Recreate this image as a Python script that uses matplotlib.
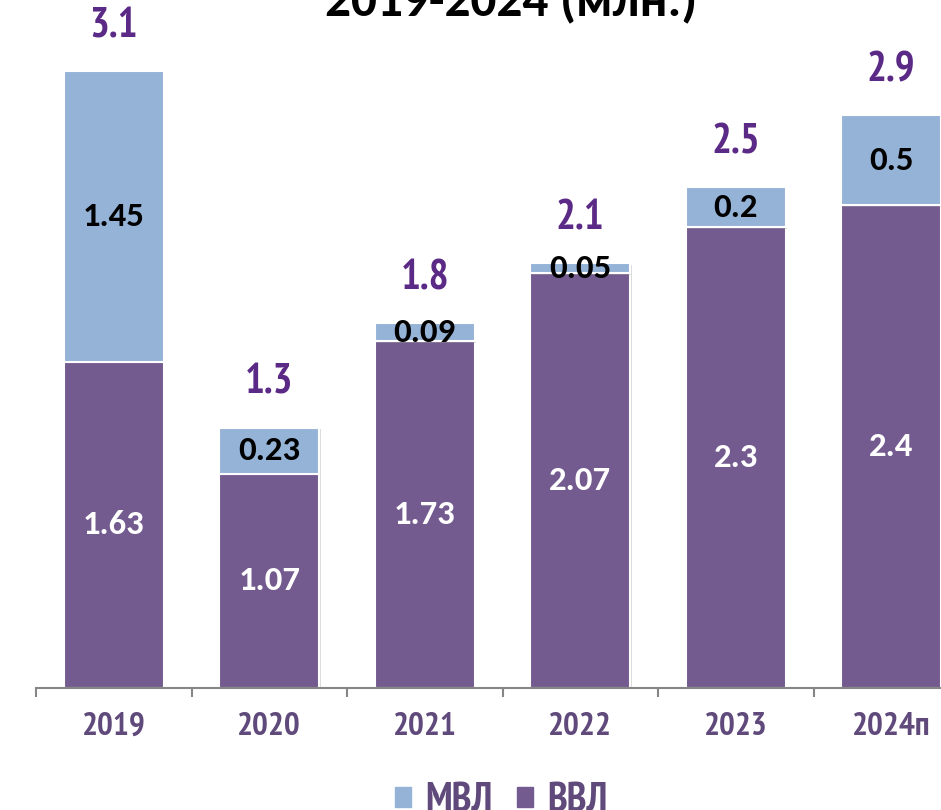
import matplotlib
matplotlib.use("Agg")
import matplotlib.pyplot as plt
import matplotlib.patheffects as pe
from matplotlib.patches import Patch
from matplotlib import font_manager
import numpy as np

# data (passengers, mln)
years = ["2019", "2020", "2021", "2022", "2023", "2024п"]
vvl = [1.63, 1.07, 1.73, 2.07, 2.30, 2.41]      # domestic
mvl = [1.45, 0.23, 0.09, 0.05, 0.20, 0.45]      # international
vvl_labels = ["1.63", "1.07", "1.73", "2.07", "2.3", "2.4"]
mvl_labels = ["1.45", "0.23", "0.09", "0.05", "0.2", "0.5"]
total_labels = ["3.1", "1.3", "1.8", "2.1", "2.5", "2.9"]

c_vvl = "#735A8F"
c_mvl = "#95B3D7"
c_total = "#5B2A86"
c_tick = "#604A7B"


def pick(prefs, default):
    have = {f.name for f in font_manager.fontManager.ttflist}
    for p in prefs:
        if p in have:
            return p
    return default


nfam = pick(["Liberation Sans Narrow", "Arial Narrow", "PT Sans Narrow", "Roboto Condensed"], "DejaVu Sans")
narrow = [nfam, "DejaVu Sans"]
nstretch = "condensed" if nfam == "DejaVu Sans" else "normal"
label_font = [pick(["Carlito", "Calibri", "Open Sans"], "DejaVu Sans"), "DejaVu Sans"]

fig = plt.figure(figsize=(9.41, 8.10), dpi=100)
W, H = 941, 810
# axes: x from -0.5 at px 36, 155.5 px per category; baseline at px 688
ax = fig.add_axes([36 / W, (H - 688) / H, 6 * 155.5 / W, 3.4 * 200.3 / H])

x = np.arange(len(years))
shadow = [pe.SimplePatchShadow(offset=(1, -1), shadow_rgbFace="#999999", alpha=0.35), pe.Normal()]
b1 = ax.bar(x, vvl, width=0.643, color=c_vvl, edgecolor="white", linewidth=1.5, zorder=2)
b2 = ax.bar(x, mvl, width=0.643, bottom=vvl, color=c_mvl, edgecolor="white", linewidth=1.5, zorder=2)
for p in list(b1) + list(b2):
    p.set_path_effects(shadow)

for i in range(len(years)):
    ax.text(x[i], vvl[i] / 2, vvl_labels[i], ha="center", va="center", color="white",
            fontsize=25, fontweight="bold", family=label_font, zorder=3)
    ax.text(x[i], vvl[i] + mvl[i] / 2, mvl_labels[i], ha="center", va="center", color="black",
            fontsize=25, fontweight="bold", family=label_font, zorder=3)
    ax.annotate(total_labels[i], (x[i], vvl[i] + mvl[i]), xytext=(0, 32), textcoords="offset points",
                ha="center", va="center", color=c_total, fontsize=30, fontweight="bold",
                family=narrow, fontstretch=nstretch, annotation_clip=False)

ax.set_xlim(-0.5, 5.5)
ax.set_ylim(0, 3.4)
ax.set_yticks([])
for s in ["left", "right", "top"]:
    ax.spines[s].set_visible(False)
ax.spines["bottom"].set_color("#868686")
ax.spines["bottom"].set_linewidth(1.5)

ax.set_xticks(x)
ax.set_xticklabels(years, fontsize=24, fontweight="bold", color=c_tick, family=narrow,
                   fontstretch=nstretch)
ax.tick_params(axis="x", which="major", length=0, pad=17)
ax.set_xticks(np.arange(-0.5, 6, 1), minor=True)
ax.tick_params(axis="x", which="minor", length=6.5, width=1.5, color="#868686")

fig.text(511 / W, 1 - 16 / H, "2019-2024 (млн.)", ha="center", va="baseline",
         fontsize=37, fontweight="bold", family=label_font, color="black")

handles = [Patch(color=c_mvl, label="МВЛ"), Patch(color=c_vvl, label="ВВЛ")]
leg = fig.legend(handles=handles, loc="center", bbox_to_anchor=(501 / W, 1 - 801 / H), ncol=2,
                 frameon=False, handlelength=0.4, handleheight=0.4, handletextpad=0.35,
                 columnspacing=0.6,
                 prop={"family": narrow, "weight": "bold", "size": 29, "stretch": nstretch})
for t in leg.get_texts():
    t.set_color(c_tick)

fig.savefig("out.png", dpi=100)
